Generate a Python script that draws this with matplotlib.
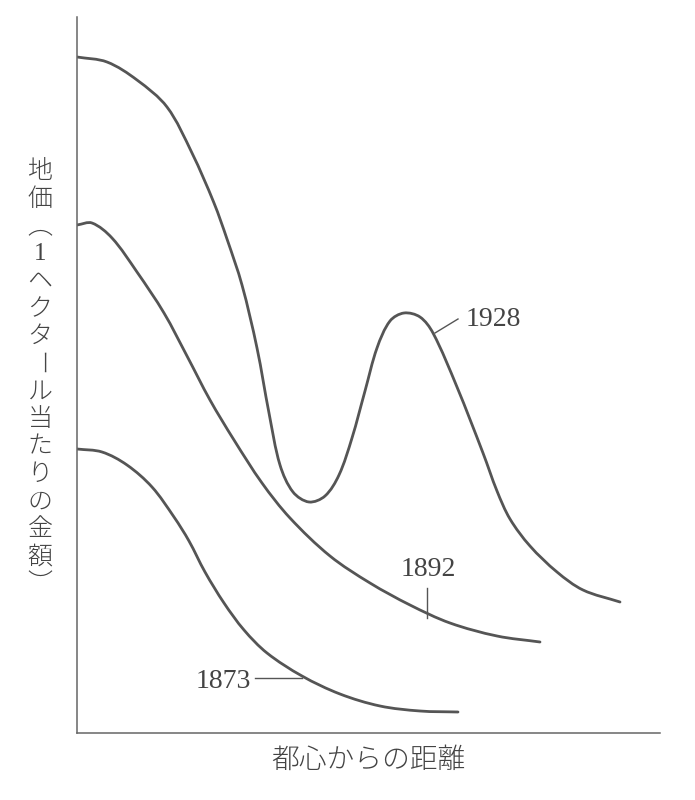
import matplotlib.pyplot as plt
from matplotlib.path import Path
from matplotlib.patches import PathPatch

plt.rcParams['font.family'] = ['Noto Sans CJK JP', 'DejaVu Sans']

# distance from center (x) and land price (y)
dist_1928 = [0, 30, 60, 90, 115, 137, 150, 165, 180, 192, 203, 216, 232, 248, 262, 275,
             288, 300, 313, 327, 343, 356, 380, 406, 420, 433, 453, 480, 506, 543]
price_1928 = [676, 671, 653, 626, 580, 530, 494, 448, 385, 320, 268, 241, 231, 237, 258, 295,
              342, 385, 412, 420, 416, 400, 346, 280, 242, 214, 187, 161, 143, 131]

dist_1892 = [0, 15, 35, 60, 87, 110, 133, 157, 185, 213, 253, 293, 333, 373, 420, 463]
price_1892 = [508, 510, 495, 461, 420, 377, 333, 293, 250, 215, 177, 150, 128, 110, 97, 91]

dist_1873 = [0, 25, 50, 75, 97, 112, 128, 147, 167, 190, 225, 263, 303, 343, 381]
price_1873 = [284, 281, 268, 246, 216, 192, 161, 130, 103, 80, 57, 39, 27, 22, 21]

years = ['1928', '1892', '1873']
ylabel_chars = ['地', '価', '︵', '1', 'ヘ', 'ク', 'タ', 'ー', 'ル', '当', 'た', 'り',
                'の', '金', '額', '︶']
xlabel = '都心からの距離'

LINE = '#555555'
TEXT = '#444444'


def smooth_path(xs, ys):
    """Chord-length Catmull-Rom through the read points, as cubic bezier segments."""
    n = len(xs)
    t = [0.0]
    for i in range(1, n):
        t.append(t[-1] + ((xs[i] - xs[i - 1]) ** 2 + (ys[i] - ys[i - 1]) ** 2) ** 0.5)
    mx, my = [], []
    for i in range(n):
        a, b = max(i - 1, 0), min(i + 1, n - 1)
        mx.append((xs[b] - xs[a]) / (t[b] - t[a]))
        my.append((ys[b] - ys[a]) / (t[b] - t[a]))
    verts = [(xs[0], ys[0])]
    codes = [Path.MOVETO]
    for i in range(n - 1):
        h = (t[i + 1] - t[i]) / 3
        verts += [(xs[i] + mx[i] * h, ys[i] + my[i] * h),
                  (xs[i + 1] - mx[i + 1] * h, ys[i + 1] - my[i + 1] * h),
                  (xs[i + 1], ys[i + 1])]
        codes += [Path.CURVE4] * 3
    return Path(verts, codes)


fig = plt.figure(figsize=(6.95, 8), dpi=100)
ax = fig.add_axes([77 / 695, 67 / 800, 583 / 695, 716 / 800])
ax.set_xlim(0, 583)
ax.set_ylim(0, 716)
for side in ['top', 'right']:
    ax.spines[side].set_visible(False)
for side in ['left', 'bottom']:
    ax.spines[side].set_color('#666666')
    ax.spines[side].set_linewidth(1.1)
ax.set_xticks([])
ax.set_yticks([])

for xs, ys in [(dist_1928, price_1928), (dist_1892, price_1892), (dist_1873, price_1873)]:
    ax.add_patch(PathPatch(smooth_path(xs, ys), facecolor='none', edgecolor=LINE,
                           lw=2.0, capstyle='round', joinstyle='round'))

# leader lines and year labels
ax.plot([358, 381], [400, 414], color=LINE, lw=1.0)
ax.plot([350, 350], [145, 115], color=LINE, lw=1.0)
ax.plot([178, 225], [55, 55], color=LINE, lw=1.0)
ax.text(416, 414, years[0], ha='center', va='center', fontsize=20,
        family='Liberation Serif', color=TEXT)
ax.text(351, 164, years[1], ha='center', va='center', fontsize=20,
        family='Liberation Serif', color=TEXT)
ax.text(146, 52, years[2], ha='center', va='center', fontsize=20,
        family='Liberation Serif', color=TEXT)

# vertical y label, one character at a time
for i, ch in enumerate(ylabel_chars):
    py = 171 + 27.5 * i
    rot = 270 if ch == 'ー' else 0
    fam = 'Liberation Serif' if ch == '1' else 'Noto Sans CJK JP'
    fig.text(40 / 695, 1 - py / 800, ch, ha='center', va='center', fontsize=18,
             rotation=rot, rotation_mode='anchor', family=fam, color=TEXT,
             fontweight='light')

fig.text(368 / 695, 1 - 760 / 800, xlabel, ha='center', va='center', fontsize=20,
         color=TEXT, fontweight='light')

fig.savefig('out.png', dpi=100)
